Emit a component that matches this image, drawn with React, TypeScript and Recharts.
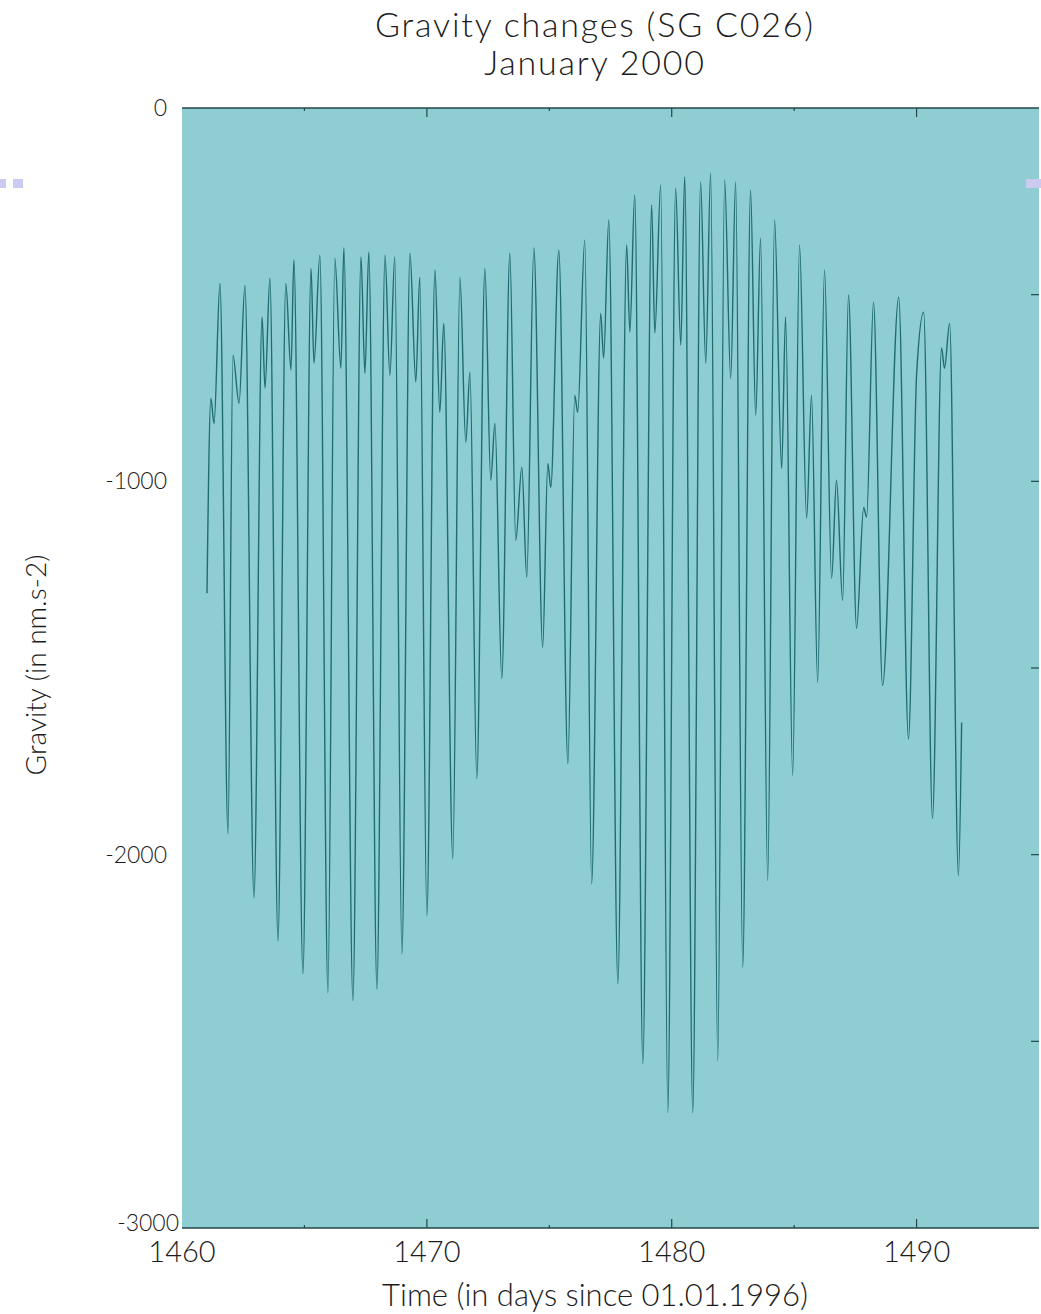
import { CartesianGrid, Line, LineChart, XAxis, YAxis } from "recharts";

// time in days since 01.01.1996, read at each turning point of the record
const days = [
  1461.02, 1461.18, 1461.31, 1461.55, 1461.88, 1462.08, 1462.33, 1462.57,
  1462.94, 1463.27, 1463.39, 1463.59, 1463.92, 1464.24, 1464.45, 1464.57,
  1464.94, 1465.27, 1465.39, 1465.63, 1465.96, 1466.24, 1466.49, 1466.61,
  1466.98, 1467.31, 1467.47, 1467.63, 1467.96, 1468.29, 1468.49, 1468.69,
  1468.98, 1469.31, 1469.55, 1469.71, 1470.0, 1470.33, 1470.53, 1470.69,
  1471.06, 1471.35, 1471.59, 1471.76, 1472.04, 1472.37, 1472.61, 1472.78,
  1473.06, 1473.39, 1473.63, 1473.88, 1474.08, 1474.37, 1474.73, 1474.94,
  1475.06, 1475.39, 1475.76, 1476.04, 1476.16, 1476.45, 1476.73, 1477.1,
  1477.22, 1477.43, 1477.8, 1478.16, 1478.29, 1478.49, 1478.82, 1479.18,
  1479.31, 1479.55, 1479.84, 1480.16, 1480.37, 1480.53, 1480.86, 1481.18,
  1481.39, 1481.59, 1481.88, 1482.16, 1482.41, 1482.61, 1482.9, 1483.22,
  1483.43, 1483.63, 1483.92, 1484.2, 1484.49, 1484.65, 1484.94, 1485.22,
  1485.51, 1485.71, 1485.96, 1486.24, 1486.53, 1486.73, 1486.98, 1487.22,
  1487.55, 1487.84, 1487.96, 1488.24, 1488.61, 1489.27, 1489.67, 1490.0,
  1490.29, 1490.65, 1491.02, 1491.14, 1491.35, 1491.71, 1491.84,
];

// gravity in nm.s-2
const gravity = [
  -1300, -778, -845, -470, -1944, -662, -791, -475,
  -2115, -560, -750, -456, -2231, -470, -702, -407,
  -2319, -430, -684, -394, -2370, -402, -697, -375,
  -2391, -399, -711, -386, -2360, -394, -716, -399,
  -2266, -389, -734, -453, -2163, -434, -815, -577,
  -2011, -453, -895, -708, -1796, -430, -997, -845,
  -1528, -389, -1158, -962, -1257, -375, -1445, -952,
  -1016, -381, -1756, -770, -815, -354, -2078, -550,
  -670, -300, -2346, -367, -600, -233, -2560, -260,
  -603, -206, -2691, -215, -635, -185, -2691, -198,
  -684, -174, -2552, -193, -724, -198, -2302, -220,
  -823, -349, -2069, -300, -965, -560, -1788, -367,
  -1099, -769, -1538, -434, -1260, -997, -1319, -501,
  -1394, -1070, -1096, -520, -1547, -507, -1690, -715,
  -547, -1903, -643, -697, -577, -2056, -1646,
];

const xTicks = [1460, 1465, 1470, 1475, 1480, 1485, 1490];
const yTicks = [0, -1000, -2000, -3000];
const yInnerTicks = [-500, -1000, -1500, -2000, -2500];

const data = days.map((t, i) => ({ t, g: gravity[i] }));

const FONT = "Lato, 'Open Sans', sans-serif";
const INK = "#1c1c1c";
const AXIS = "#23474a";
const MARK = "#cbcbf1";

function BottomTick(props: any) {
  const { x, y, payload } = props;
  const v = payload.value as number;
  const major = v % 10 === 0;
  return (
    <g>
      {v !== 1460 && (
        <line x1={x} y1={y} x2={x} y2={y - (major ? 9 : 3)} stroke={AXIS} strokeWidth={1.2} />
      )}
      {major && (
        <text x={x} y={y + 34} textAnchor="middle" fontSize={29} fontFamily={FONT} fontWeight={300} fill={INK}>
          {v}
        </text>
      )}
    </g>
  );
}

function TopTick(props: any) {
  const { x, y, payload } = props;
  const v = payload.value as number;
  if (v === 1460) return <g />;
  return <line x1={x} y1={y} x2={x} y2={y + (v % 10 === 0 ? 9 : 3)} stroke={AXIS} strokeWidth={1.2} />;
}

function RightTick(props: any) {
  const { x, y } = props;
  return <line x1={x} y1={y} x2={x - 8} y2={y} stroke={AXIS} strokeWidth={1.2} />;
}

function LeftTick(props: any) {
  const { x, y, payload } = props;
  const v = payload.value as number;
  // the bottom label sits a little right of and above the others, as in the source
  const bottom = v === -3000;
  return (
    <text
      x={x + (bottom ? 12 : 0)}
      y={y + (bottom ? 3 : 8)}
      textAnchor="end"
      fontSize={23}
      fontFamily={FONT}
      fontWeight={300}
      fill={INK}
    >
      {v}
    </text>
  );
}

export default function App() {
  return (
    <div
      style={{
        position: "absolute",
        left: 0,
        top: 0,
        width: 1041,
        height: 1314,
        overflow: "hidden",
        fontFamily: FONT,
        color: INK,
        background: "#fff",
      }}
    >
      <div
        style={{
          position: "absolute",
          left: 0,
          top: 5,
          width: 1190,
          textAlign: "center",
          fontSize: 34,
          letterSpacing: 1.8,
          fontWeight: 300,
          lineHeight: "38px",
        }}
      >
        <div>Gravity changes (SG C026)</div>
        <div>January 2000</div>
      </div>

      <LineChart width={1041} height={1314} data={data} margin={{ top: 107, right: 1, bottom: 0, left: 8 }}>
        <CartesianGrid horizontal={false} vertical={false} fill="#8ecdd2" stroke="none" />
        <XAxis
          xAxisId="top"
          orientation="top"
          type="number"
          dataKey="t"
          domain={[1460, 1495]}
          allowDataOverflow
          ticks={xTicks}
          height={1}
          tickSize={0}
          tickMargin={0}
          tickLine={false}
          tick={<TopTick />}
          axisLine={{ stroke: AXIS, strokeWidth: 1.5 }}
        />
        <XAxis
          xAxisId="bottom"
          orientation="bottom"
          type="number"
          dataKey="t"
          domain={[1460, 1495]}
          allowDataOverflow
          ticks={xTicks}
          height={86}
          tickSize={0}
          tickMargin={0}
          tickLine={false}
          tick={<BottomTick />}
          axisLine={{ stroke: AXIS, strokeWidth: 1.5 }}
        />
        <YAxis
          yAxisId="left"
          type="number"
          domain={[-3000, 0]}
          allowDataOverflow
          ticks={yTicks}
          width={174}
          axisLine={false}
          tickLine={false}
          tickMargin={9}
          tick={<LeftTick />}
        />
        <YAxis
          yAxisId="right"
          orientation="right"
          type="number"
          domain={[-3000, 0]}
          allowDataOverflow
          ticks={yInnerTicks}
          width={1}
          tickSize={0}
          tickMargin={0}
          tickLine={false}
          tick={<RightTick />}
          axisLine={false}
        />
        <Line
          xAxisId="bottom"
          yAxisId="left"
          type="monotone"
          dataKey="g"
          stroke="#1f6c71"
          strokeWidth={1.4}
          dot={false}
          activeDot={false}
          isAnimationActive={false}
        />
        {/* invisible copy so the top and right frame axes get drawn */}
        <Line
          xAxisId="top"
          yAxisId="right"
          type="monotone"
          dataKey="g"
          stroke="none"
          strokeOpacity={0}
          dot={false}
          activeDot={false}
          isAnimationActive={false}
        />
      </LineChart>

      <div
        style={{
          position: "absolute",
          left: 0,
          top: 1276,
          width: 1190,
          textAlign: "center",
          fontSize: 31,
          lineHeight: "36px",
          fontWeight: 300,
        }}
      >
        Time (in days since 01.01.1996)
      </div>
      <div
        style={{
          position: "absolute",
          left: 35,
          top: 665,
          transform: "translate(-50%, -50%) rotate(-90deg)",
          whiteSpace: "nowrap",
          fontSize: 28,
          fontWeight: 300,
        }}
      >
        Gravity (in nm.s-2)
      </div>

      <div style={{ position: "absolute", left: 0, top: 179, width: 6, height: 9, background: MARK }} />
      <div style={{ position: "absolute", left: 13, top: 179, width: 10, height: 9, background: MARK }} />
      <div style={{ position: "absolute", left: 1026, top: 179, width: 15, height: 9, background: MARK }} />
    </div>
  );
}
